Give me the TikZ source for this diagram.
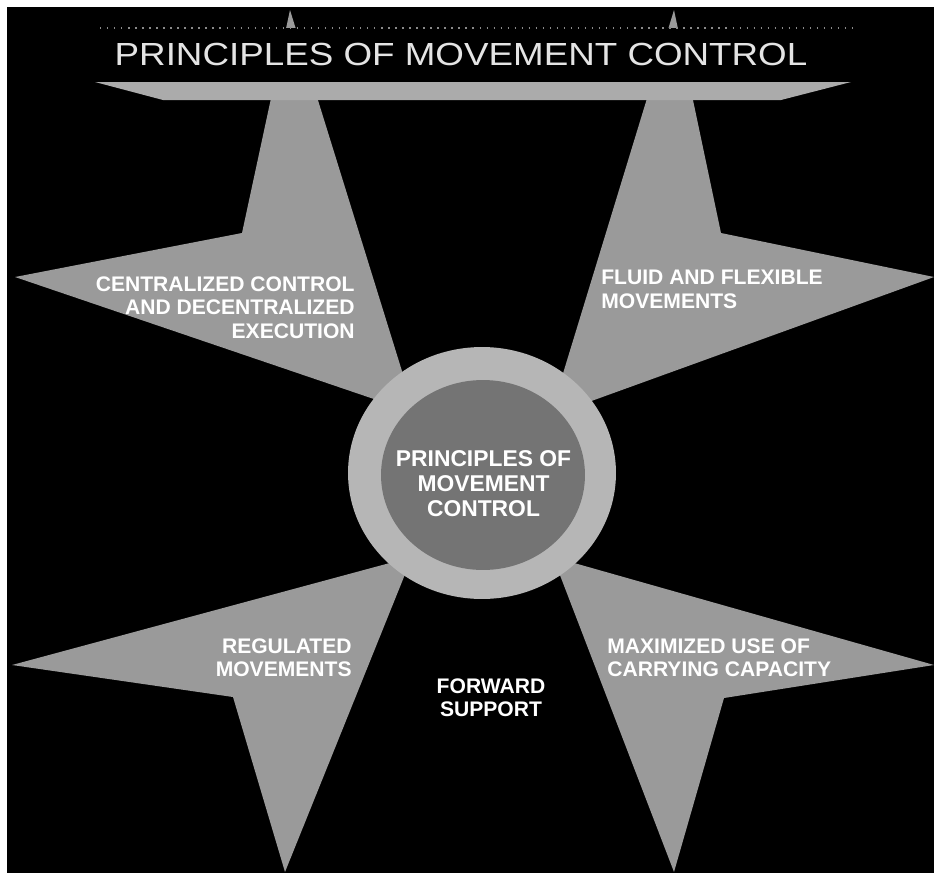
\documentclass[tikz,border=0pt]{standalone}
\usepackage{fontspec}
\setmainfont{Liberation Sans}
\usepackage{tikz}
\usetikzlibrary{positioning,shapes.geometric}
\definecolor{ink}{HTML}{000000}
\definecolor{paper}{HTML}{FFFFFF}
\definecolor{spikegray}{HTML}{9A9A9A}
\definecolor{ringgray}{HTML}{B6B6B6}
\definecolor{coregray}{HTML}{747474}
\definecolor{bargray}{HTML}{ABABAB}
\definecolor{titlegray}{HTML}{E4E4E4}
\definecolor{dotgray}{HTML}{8A8A8A}
\tikzset{
  spike/.style={fill=spikegray,draw=none},
  band/.style={fill=bargray,draw=none},
  dots/.style={dotgray,line width=.8pt,dash pattern=on .8pt off 3.2pt},
  hub/.style={ellipse,inner sep=0pt,fill=ringgray,minimum width=5.36cm,minimum height=5.04cm},
  core/.style={ellipse,inner sep=0pt,fill=coregray,minimum width=4.08cm,minimum height=3.8cm},
  heading/.style={text=titlegray,inner sep=0pt,anchor=base,font=\fontsize{18.2}{20}\selectfont},
  tag/.style={text=white,inner sep=0pt,font=\bfseries\fontsize{12}{13.4}\selectfont},
  hubtag/.style={text=white,inner sep=0pt,align=center,font=\bfseries\fontsize{13}{14.2}\selectfont},
}
\begin{document}
\begin{tikzpicture}[x=0.02cm,y=-0.02cm]
  \useasboundingbox (0,0) rectangle (934,873);
  \fill[paper] (0,0) rectangle (934,873);
  \fill[ink] (7,7) rectangle (934,873);
  % four spikes, inner corners hidden under the hub
  \fill[spike] (290,10) -- (242,233) -- (15,277) -- (415,413) -- cycle;
  \fill[spike] (674,10) -- (721,233) -- (934,277) -- (550,416) -- cycle;
  \fill[spike] (12,665) -- (233,697) -- (285,872) -- (412,557) -- cycle;
  \fill[spike] (934,665) -- (724,698) -- (674,872) -- (553,557) -- cycle;
  % title strip
  \fill[ink] (7,28) rectangle (934,82);
  \draw[dots] (100,28) -- (852,28);
  \fill[band] (95,82) -- (851,82) -- (781,100) -- (163,100) -- cycle;
  \node[heading] (title) at (461,65) {\scalebox{1.15}[1]{PRINCIPLES OF MOVEMENT CONTROL}};
  % hub
  \node[hub] (ring) at (482,473) {};
  \node[core] (core) at (483,475) {};
  \node[hubtag] (hubtext) at (483.5,483.5) {PRINCIPLES OF\\MOVEMENT\\CONTROL};
  % spike labels
  \node[tag,align=right,anchor=north east] (central) at (355,276) {CENTRALIZED CONTROL\\AND DECENTRALIZED\\EXECUTION};
  \node[tag,align=left,anchor=north west] (fluid) at (601,270) {FLUID AND FLEXIBLE\\MOVEMENTS};
  \node[tag,align=right,anchor=north east] (regulated) at (352,638) {REGULATED\\MOVEMENTS};
  \node[tag,align=left,anchor=north west] (capacity) at (607,638) {MAXIMIZED USE OF\\CARRYING CAPACITY};
  \node[tag,align=center,anchor=north] (forward) at (491,678) {FORWARD\\SUPPORT};
\end{tikzpicture}
\end{document}
